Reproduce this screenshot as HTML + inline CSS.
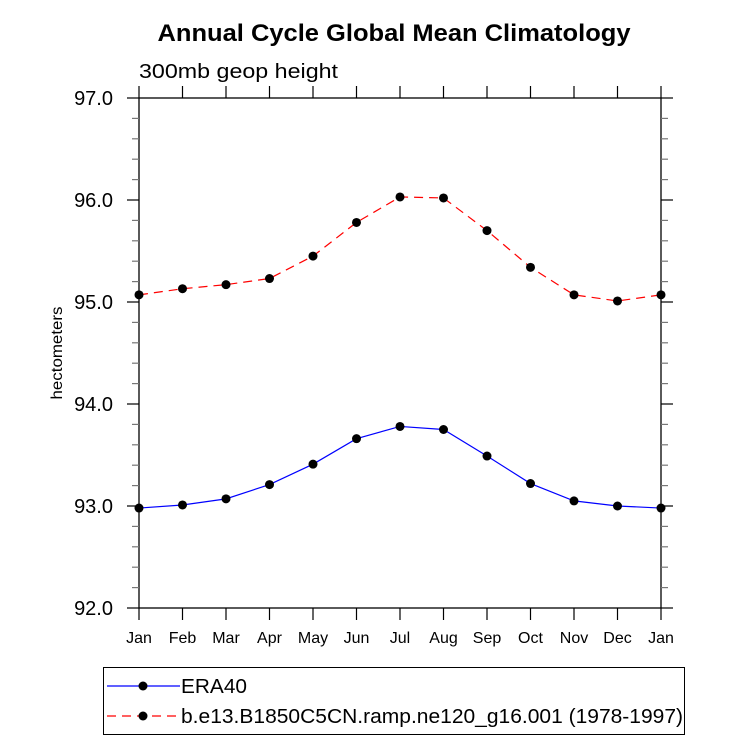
<!DOCTYPE html>
<html><head><meta charset="utf-8"><style>
body{margin:0;background:#fff}
svg{font-family:"Liberation Sans",sans-serif}
</style></head><body>
<svg id="c" width="733" height="741" xmlns="http://www.w3.org/2000/svg">
<rect width="733" height="741" fill="#fff"/>
<text x="394" y="41" text-anchor="middle" font-size="24" font-weight="bold" textLength="473" lengthAdjust="spacingAndGlyphs">Annual Cycle Global Mean Climatology</text>
<text x="139" y="78" font-size="20" textLength="199" lengthAdjust="spacingAndGlyphs">300mb geop height</text>
<text transform="translate(62,353) rotate(-90)" text-anchor="middle" font-size="16" textLength="93" lengthAdjust="spacingAndGlyphs">hectometers</text>
<g id="axes"></g>
<g id="series"></g>
<rect x="103.5" y="667.5" width="581" height="67" fill="none" stroke="#000" stroke-width="1"/>
<g>
<line x1="107" y1="686" x2="180" y2="686" stroke="#00f" stroke-width="1.2"/>
<circle cx="143" cy="686" r="4.5"/>
<text x="181" y="693" font-size="20" textLength="66" lengthAdjust="spacingAndGlyphs">ERA40</text>
</g>
<g>
<line x1="107" y1="716" x2="180" y2="716" stroke="#f00" stroke-width="1.2" stroke-dasharray="9,6"/>
<circle cx="143" cy="716" r="4.5"/>
<text x="181" y="723" font-size="20" textLength="502" lengthAdjust="spacingAndGlyphs">b.e13.B1850C5CN.ramp.ne120_g16.001 (1978-1997)</text>
</g>
</svg>
<script>
const months=["Jan","Feb","Mar","Apr","May","Jun","Jul","Aug","Sep","Oct","Nov","Dec","Jan"];
const era40=[92.98,93.01,93.07,93.21,93.41,93.66,93.78,93.75,93.49,93.22,93.05,93.00,92.98];
const model=[95.07,95.13,95.17,95.23,95.45,95.78,96.03,96.02,95.70,95.34,95.07,95.01,95.07];
const yTicks=[92.0,93.0,94.0,95.0,96.0,97.0];
const NS="http://www.w3.org/2000/svg";
const X0=139,X1=661,Y0=608,Y1=98,ymin=92,ymax=97;
const xs=i=>X0+(X1-X0)*i/(months.length-1);
const ys=v=>Y0-(v-ymin)/(ymax-ymin)*(Y0-Y1);
function mk(t,a,p){const e=document.createElementNS(NS,t);for(const k in a)e.setAttribute(k,a[k]);p.appendChild(e);return e;}
const ax=document.getElementById('axes');
const fr=mk('rect',{x:X0,y:Y1,width:X1-X0,height:Y0-Y1,fill:'none',stroke:'#000','stroke-width':1.3},ax);


months.forEach((m,i)=>{const x=xs(i);
mk('line',{x1:x,y1:Y0,x2:x,y2:Y0+12,stroke:'#000','stroke-width':1.2},ax);
mk('line',{x1:x,y1:Y1,x2:x,y2:Y1-12,stroke:'#000','stroke-width':1.2},ax);
const t=mk('text',{x:x,y:Y0+35,'text-anchor':'middle','font-size':16},ax);t.textContent=m;

});
for(let v=ymin;v<=ymax+1e-6;v+=0.2){const y=ys(v);const major=Math.abs(v-Math.round(v))<1e-6;const L=major?12:7;
mk('line',{x1:X0,y1:y,x2:X0-L,y2:y,stroke:major?'#000':'#777','stroke-width':1.2},ax);
mk('line',{x1:X1,y1:y,x2:X1+L,y2:y,stroke:major?'#000':'#777','stroke-width':1.2},ax);}
yTicks.forEach(v=>{const t=mk('text',{x:X0-26,y:ys(v)+7,'text-anchor':'end','font-size':20},ax);t.textContent=v.toFixed(1);

});
const sg=document.getElementById('series');
function draw(vals,col,dash,name){
const p=mk('polyline',{points:vals.map((v,i)=>xs(i)+','+ys(v)).join(' '),fill:'none',stroke:col,'stroke-width':1.2,'stroke-dasharray':dash},sg);


vals.forEach((v,i)=>{const c=mk('circle',{cx:xs(i),cy:ys(v),r:4.5,fill:'#000'},sg);

});}
draw(era40,'#00f','none','era40');
draw(model,'#f00','9,6','model');
</script>
</body></html>
